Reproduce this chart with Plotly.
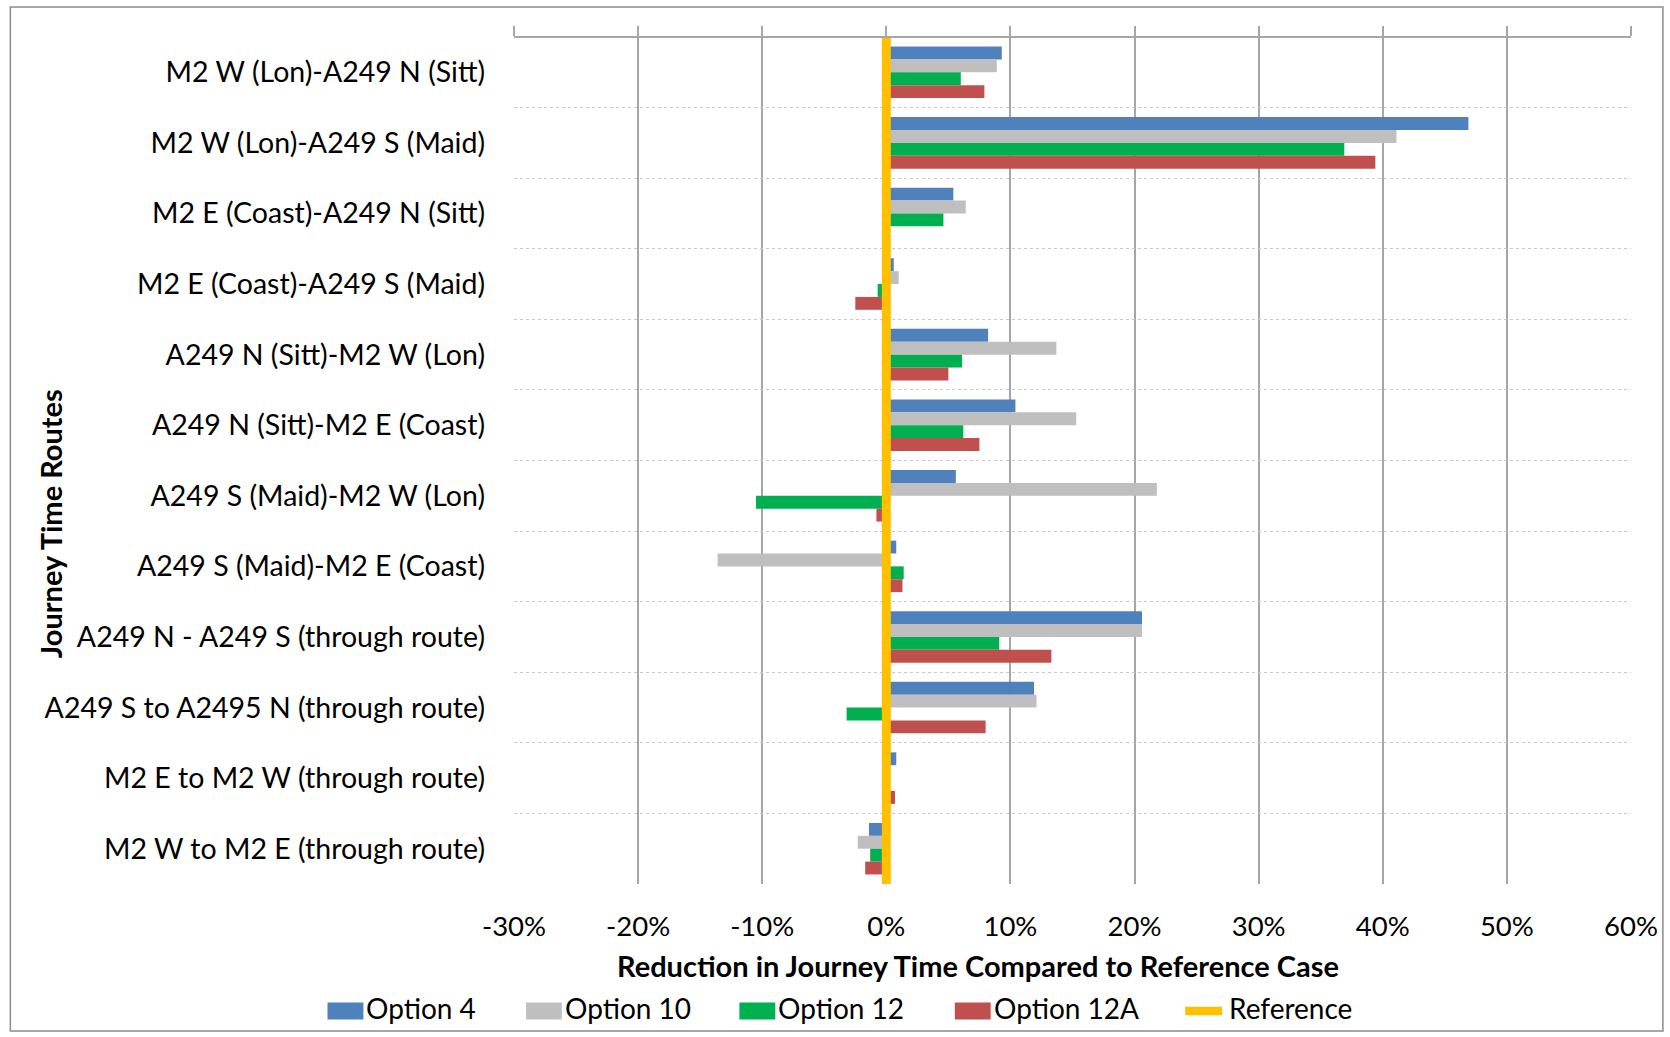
import plotly.graph_objects as go

# Journey time routes (top to bottom)
routes = [
    "M2 W (Lon)-A249 N (Sitt)",
    "M2 W (Lon)-A249 S (Maid)",
    "M2 E (Coast)-A249 N (Sitt)",
    "M2 E (Coast)-A249 S (Maid)",
    "A249 N (Sitt)-M2 W (Lon)",
    "A249 N (Sitt)-M2 E (Coast)",
    "A249 S (Maid)-M2 W (Lon)",
    "A249 S (Maid)-M2 E (Coast)",
    "A249 N - A249 S (through route)",
    "A249 S to A2495 N (through route)",
    "M2 E to M2 W (through route)",
    "M2 W to M2 E (through route)",
]

# Reduction in journey time vs reference case (%)
option_4 = [9.3, 46.9, 5.4, 0.6, 8.2, 10.4, 5.6, 0.8, 20.6, 11.9, 0.8, -1.4]
option_10 = [8.9, 41.1, 6.4, 1.0, 13.7, 15.3, 21.8, -13.6, 20.6, 12.1, 0.0, -2.3]
option_12 = [6.0, 36.9, 4.6, -0.7, 6.1, 6.2, -10.5, 1.4, 9.1, -3.2, 0.0, -1.3]
option_12a = [7.9, 39.4, 0.0, -2.5, 5.0, 7.5, -0.8, 1.3, 13.3, 8.0, 0.7, -1.7]
reference = 0.0

x_ticks = [-30, -20, -10, 0, 10, 20, 30, 40, 50, 60]
x_tick_labels = ["-30%", "-20%", "-10%", "0%", "10%", "20%", "30%", "40%", "50%", "60%"]

series = [
    ("Option 4", option_4, "#4F81BD"),
    ("Option 10", option_10, "#BFBFBF"),
    ("Option 12", option_12, "#00B050"),
    ("Option 12A", option_12a, "#C0504D"),
]
REF_NAME = "Reference"
REF_COLOR = "#FFC000"

FONT = "Lato, 'Open Sans', sans-serif"
W, H = 1670, 1037
M_L, M_R, M_T, M_B = 514, 36, 37, 153
PW, PH = W - M_L - M_R, H - M_T - M_B


def px_x(px):
    """Pixel column -> paper x."""
    return (px - M_L) / PW


def px_y(py):
    """Pixel row (from top) -> paper y."""
    return (H - M_B - py) / PH


fig = go.Figure()
for name, vals, color in series:
    fig.add_trace(go.Bar(
        y=routes, x=vals, name=name, orientation="h",
        marker=dict(color=color, line=dict(width=0)),
        showlegend=False,
    ))

# Reference line spanning the full height of the plot
fig.add_trace(go.Scatter(
    x=[reference, reference], y=[0, 1], name=REF_NAME, mode="lines",
    line=dict(color=REF_COLOR, width=9), xaxis="x2", yaxis="y2",
    showlegend=False,
))

# Legend row below the axis title: wide colour keys next to the names
legend_key_left = [327, 526, 740, 956, 1183]
legend_key_cy = 1011
legend_text_cy = 1008
shapes = []
annotations = []
for (name, _, color), kx in zip(series, legend_key_left):
    shapes.append(dict(type="rect", xref="paper", yref="paper",
                       x0=px_x(kx), x1=px_x(kx + 36),
                       y0=px_y(legend_key_cy + 8.5), y1=px_y(legend_key_cy - 8.5),
                       fillcolor=color, line=dict(width=0)))
    annotations.append(dict(text=name, xref="paper", yref="paper",
                            x=px_x(kx + 37), y=px_y(legend_text_cy), showarrow=False,
                            xanchor="left", yanchor="middle", font=dict(size=28)))
kx = legend_key_left[-1]
shapes.append(dict(type="line", xref="paper", yref="paper",
                   x0=px_x(kx + 4), x1=px_x(kx + 41),
                   y0=px_y(legend_key_cy), y1=px_y(legend_key_cy),
                   line=dict(color=REF_COLOR, width=8.5)))
annotations.append(dict(text=REF_NAME, xref="paper", yref="paper",
                        x=px_x(kx + 46), y=px_y(legend_text_cy), showarrow=False,
                        xanchor="left", yanchor="middle", font=dict(size=28)))

# Axis titles
annotations.append(dict(text="<b>Journey Time Routes</b>", xref="paper", yref="paper",
                        x=px_x(49), y=px_y(524), textangle=-90, showarrow=False,
                        xanchor="center", yanchor="middle", font=dict(size=29)))
annotations.append(dict(text="<b>Reduction in Journey Time Compared to Reference Case</b>",
                        xref="paper", yref="paper", x=px_x(979), y=px_y(966),
                        showarrow=False, xanchor="center", yanchor="middle",
                        font=dict(size=29)))

# Plot top edge and outer chart border
shapes.append(dict(type="line", xref="paper", yref="paper", x0=0, x1=1, y0=1, y1=1,
                   line=dict(color="#A6A6A6", width=2)))
shapes.append(dict(type="rect", xref="paper", yref="paper",
                   x0=px_x(9), x1=px_x(1666), y0=px_y(1031), y1=px_y(7),
                   line=dict(color="#8C8C8C", width=1.5),
                   fillcolor="rgba(0,0,0,0)", layer="below"))

# Category axis crosses the value axis at the reference value
cross_pos = (reference - x_ticks[0]) / (x_ticks[-1] - x_ticks[0])

fig.update_layout(
    width=W, height=H,
    margin=dict(l=M_L, r=M_R, t=M_T, b=M_B),
    paper_bgcolor="white", plot_bgcolor="white",
    barmode="group", bargap=0.27, bargroupgap=0,
    showlegend=False,
    font=dict(family=FONT, size=28, color="#000000"),
    xaxis=dict(
        range=[x_ticks[0], x_ticks[-1]], tickvals=x_ticks, ticktext=x_tick_labels,
        showgrid=True, gridcolor="#A6A6A6", gridwidth=1.5,
        zeroline=False, showline=False, ticks="",
        ticklabelstandoff=23, tickfont=dict(size=27.5),
    ),
    xaxis2=dict(
        range=[x_ticks[0], x_ticks[-1]], tickvals=x_ticks, overlaying="x", side="top",
        showgrid=False, zeroline=False, showline=False,
        ticks="outside", ticklen=10, tickcolor="#A6A6A6", tickwidth=1.5,
        showticklabels=False,
    ),
    yaxis=dict(
        autorange="reversed", type="category", tickson="boundaries",
        showgrid=True, gridcolor="#C8C8C8", gridwidth=1, griddash="dot",
        zeroline=False, showline=False, ticks="",
        ticklabelstandoff=28, tickfont=dict(size=28.5),
    ),
    yaxis2=dict(
        range=[0, 1], overlaying="y", visible=False, fixedrange=True,
    ),
    yaxis3=dict(
        matches="y", overlaying="y", type="category", tickson="boundaries",
        anchor="free", position=cross_pos, side="left",
        ticks="outside", ticklen=7, tickcolor="#A6A6A6", tickwidth=1.5,
        showticklabels=False, showgrid=False, zeroline=False, showline=False,
    ),
    annotations=annotations,
    shapes=shapes,
)

fig.write_html("out.html")
